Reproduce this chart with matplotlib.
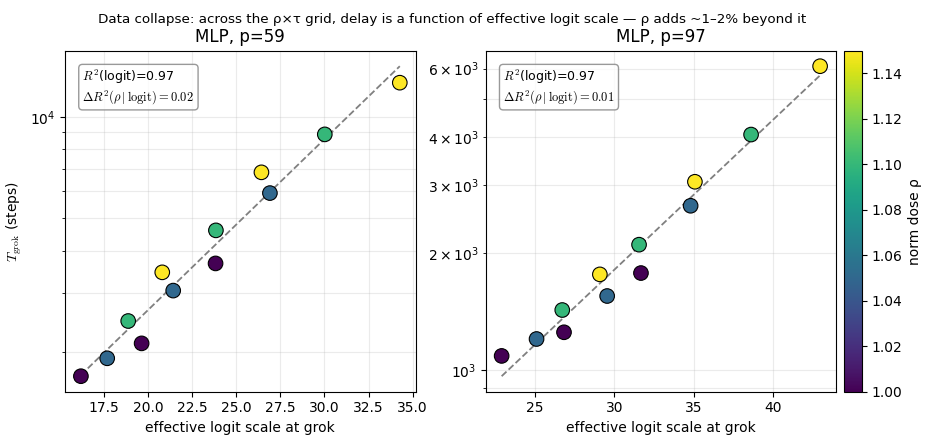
import matplotlib
matplotlib.use("Agg")
import matplotlib.pyplot as plt
import numpy as np

plt.rcParams["mathtext.fontset"] = "cm"

# p=59 panel
logit59 = [16.20, 17.69, 18.88, 19.64, 20.81, 21.43, 23.85, 23.83, 26.43, 26.91, 30.02, 34.27]
tgrok59 = [1698, 1919, 2476, 2125, 3453, 3048, 4600, 3670, 6839, 5935, 8864, 12620]
rho59 = [1.00, 1.05, 1.10, 1.00, 1.15, 1.05, 1.10, 1.00, 1.15, 1.05, 1.10, 1.15]

# p=97 panel
logit97 = [22.90, 25.10, 26.72, 26.83, 29.09, 29.55, 31.56, 31.68, 34.81, 35.08, 38.62, 42.97]
tgrok97 = [1087, 1202, 1428, 1251, 1765, 1552, 2106, 1779, 2654, 3061, 4053, 6085]
rho97 = [1.00, 1.05, 1.10, 1.00, 1.15, 1.05, 1.10, 1.00, 1.05, 1.15, 1.10, 1.15]

panels = [
    ("MLP, p=59", logit59, tgrok59, rho59, 0.97, 0.02),
    ("MLP, p=97", logit97, tgrok97, rho97, 0.97, 0.01),
]

fig = plt.figure(figsize=(9.28, 4.42), dpi=100)
ax1 = fig.add_axes([0.070, 0.1138, 0.378, 0.7715])
ax2 = fig.add_axes([0.5234, 0.1138, 0.3775, 0.7715])
cax = fig.add_axes([0.9095, 0.1138, 0.019, 0.7715])

for ax, (title, x, t, rho, r2, dr2) in zip([ax1, ax2], panels):
    x = np.array(x)
    t = np.array(t)
    coef = np.polyfit(x, np.log10(t), 1)
    xx = np.linspace(x.min(), x.max(), 50)
    ax.plot(xx, 10 ** np.polyval(coef, xx), "--", color="gray", lw=1.3, zorder=2)
    sc = ax.scatter(x, t, c=rho, cmap="viridis", vmin=1.0, vmax=1.15,
                    s=110, edgecolors="k", linewidths=0.8, zorder=3)
    ax.set_yscale("log")
    ax.grid(True, which="both", alpha=0.25)
    ax.set_title(title, fontsize=12)
    ax.set_xlabel("effective logit scale at grok")
    ax.text(0.05, 0.95,
            "$R^2$(logit)=%.2f\n$\\Delta R^2(\\rho\\,|\\,\\text{logit})=%.2f$" % (r2, dr2),
            transform=ax.transAxes, ha="left", va="top", fontsize=9,
            bbox=dict(boxstyle="round", facecolor="white", edgecolor="gray", alpha=0.8))

ax1.set_ylabel(r"$T_{\rm grok}$ (steps)")
cb = fig.colorbar(sc, cax=cax)
cb.set_label("norm dose ρ")
fig.suptitle("Data collapse: across the ρ×τ grid, delay is a function of effective logit scale — ρ adds ~1–2% beyond it",
             fontsize=9.7, x=0.487, y=0.97)

fig.savefig("out.png", dpi=100)
